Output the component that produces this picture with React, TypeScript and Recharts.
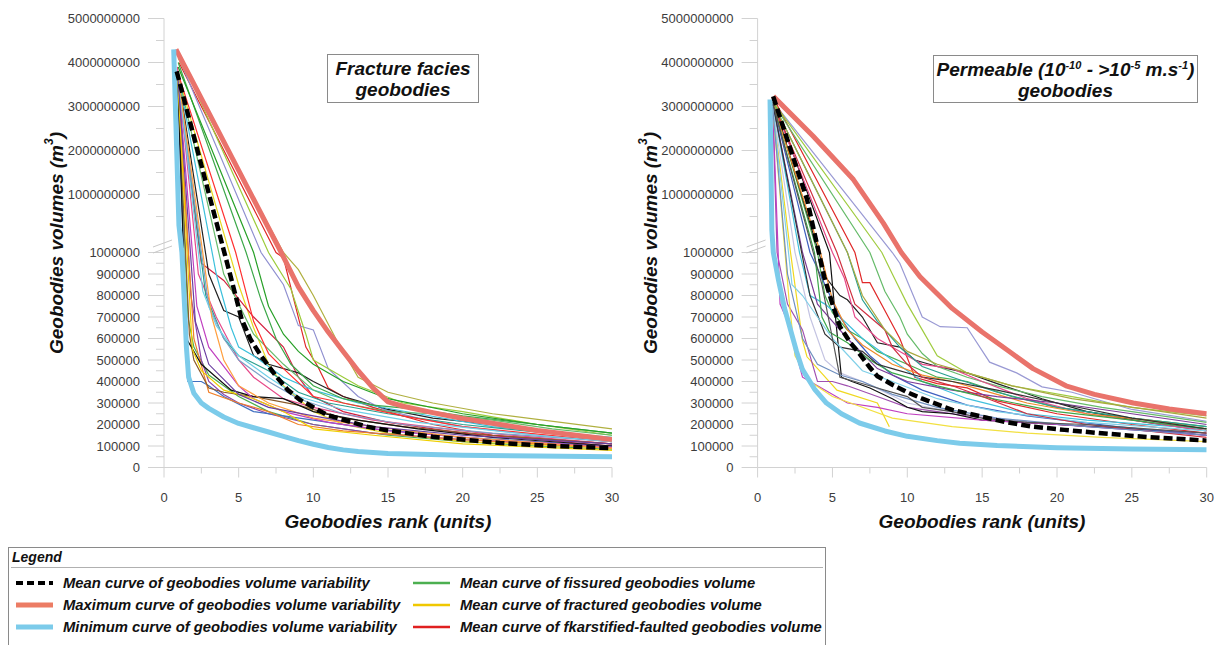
import React from 'react';
import { LineChart, Line, XAxis, YAxis } from 'recharts';

type Pt = [number, number]; // [rank, volume m3]

const FONT = '"Liberation Sans", Arial, sans-serif';
const AXIS = '#d2d2d2';
const TICK_TXT = '#3c3c3c';
const MAX_C = '#e9736b';
const MIN_C = '#7ccbea';

// axis ticks (real values)
const xTickValues = [0, 2.5, 5, 7.5, 10, 12.5, 15, 17.5, 20, 22.5, 25, 27.5, 30];
const lowTickValues = [
  0, 50000, 100000, 150000, 200000, 250000, 300000, 350000, 400000, 450000, 500000,
  550000, 600000, 650000, 700000, 750000, 800000, 850000, 900000, 950000, 1000000,
];
const highTickValues = [
  500000000, 1000000000, 1500000000, 2000000000, 2500000000, 3000000000, 3500000000,
  4000000000, 4500000000, 5000000000,
];

// ---- Fracture facies geobodies ----
const fMean: Pt[] = [[0.85, 3.8e9], [4.4, 905000], [5.2, 690000], [5.8, 595000], [6.5, 520000], [7.5, 425000], [8.3, 360000], [9.1, 315000], [10, 280000], [10.9, 245000], [12, 222000], [13.6, 190000], [15, 172000], [18, 143000], [22.5, 114000], [26, 100000], [30, 90000]];
const fMax: Pt[] = [[0.8, 4.3e9], [7.85, 1e6], [9, 840000], [10, 730000], [11, 630000], [12, 540000], [13, 450000], [14, 370000], [15, 305000], [16, 285000], [18, 255000], [20, 228000], [25, 172000], [30, 130000]];
const fMin: Pt[] = [[0.65, 4.3e9], [1.0, 0.3e9], [1.2, 1e6], [1.4, 720000], [1.5, 560000], [1.65, 420000], [2, 345000], [2.5, 300000], [3, 275000], [4, 235000], [5, 205000], [6, 185000], [7, 165000], [8, 145000], [9, 125000], [10, 108000], [11, 93000], [12, 82000], [13, 74000], [15, 65000], [20, 57000], [25, 53000], [30, 50000]];

const fGreen1: Pt[] = [[0.9, 3.8e9], [1.6, 700000], [2, 560000], [3, 430000], [4, 380000], [5, 330000], [7, 260000], [10, 200000], [15, 150000], [20, 120000], [25, 100000], [30, 85000]];
const fYellow1: Pt[] = [[0.95, 3.7e9], [5, 850000], [6, 650000], [7, 480000], [8, 380000], [10, 260000], [12, 200000], [15, 160000], [20, 120000], [30, 90000]];
const fRed1: Pt[] = [[1, 4.0e9], [7.5, 1e6], [8, 975000], [8.7, 780000], [9.5, 560000], [10.3, 470000], [11, 370000], [12, 330000], [14, 280000], [18, 200000], [22, 150000], [30, 110000]];
const fRed2: Pt[] = [[0.9, 3.6e9], [2.5, 950000], [4, 870000], [6, 700000], [8, 560000], [9, 420000], [10, 330000], [12, 260000], [15, 210000], [20, 160000], [30, 100000]];
const fLavender: Pt[] = [[1, 4.1e9], [6.5, 1e6], [8, 850000], [9, 660000], [10, 640000], [11, 460000], [13, 330000], [14.7, 270000], [17, 230000], [20, 190000], [25, 150000], [30, 120000]];
const fLightGreen: Pt[] = [[1, 4.2e9], [7, 1e6], [8.5, 830000], [9.5, 620000], [10, 500000], [12, 420000], [13, 380000], [16, 300000], [20, 260000], [25, 200000], [30, 150000]];
const fPurple1: Pt[] = [[0.9, 3.7e9], [1.8, 800000], [2.5, 500000], [3, 400000], [4, 340000], [5, 300000], [7, 250000], [10, 200000], [14, 160000], [20, 130000], [30, 100000]];
const fBlack1: Pt[] = [[0.9, 3.8e9], [3, 900000], [4, 730000], [5, 700000], [6, 520000], [7, 480000], [9, 440000], [10, 400000], [12, 330000], [15, 270000], [18, 230000], [22, 200000], [26, 160000], [30, 130000]];
const fCyan: Pt[] = [[0.9, 3.8e9], [3.5, 900000], [4.5, 650000], [5, 560000], [6, 520000], [8, 420000], [10, 360000], [13, 300000], [17, 250000], [22, 190000], [30, 140000]];
const fBlue: Pt[] = [[0.9, 3.7e9], [1.6, 400000], [2.5, 400000], [3, 380000], [4, 330000], [6, 260000], [10, 220000], [14, 180000], [20, 140000], [30, 100000]];
const fOrange1: Pt[] = [[0.9, 3.8e9], [2, 600000], [3, 350000], [5, 300000], [7, 260000], [9, 200000], [12, 170000], [16, 150000], [20, 130000], [25, 110000], [30, 90000]];
const fPink: Pt[] = [[0.9, 3.9e9], [2.3, 900000], [3.5, 700000], [5, 500000], [6, 420000], [8, 320000], [10, 280000], [14, 220000], [20, 170000], [30, 110000]];
const fTeal: Pt[] = [[0.9, 3.8e9], [2.8, 800000], [4, 600000], [5, 520000], [7, 450000], [9, 350000], [11, 300000], [15, 250000], [20, 200000], [30, 130000]];
const fGreen2: Pt[] = [[0.95, 4.0e9], [5.5, 1e6], [6.5, 780000], [7.5, 600000], [8.5, 480000], [10, 380000], [12, 320000], [14, 290000], [17, 270000], [20, 240000], [25, 200000], [30, 160000]];
const fOlive: Pt[] = [[0.95, 4.1e9], [8, 1e6], [9, 920000], [10, 800000], [11.5, 600000], [13, 420000], [15, 350000], [18, 300000], [22, 250000], [30, 180000]];
const fBrown: Pt[] = [[0.9, 3.6e9], [1.7, 620000], [2, 500000], [3, 370000], [4, 350000], [6, 330000], [9, 290000], [12, 230000], [16, 190000], [22, 150000], [30, 110000]];
const fGrayBlue: Pt[] = [[0.9, 3.7e9], [3, 750000], [4, 600000], [5, 500000], [7, 400000], [9, 320000], [12, 250000], [16, 200000], [22, 160000], [30, 120000]];
const fBlack2: Pt[] = [[0.9, 3.8e9], [1.5, 600000], [2.5, 480000], [3.5, 420000], [4.5, 360000], [6, 330000], [8, 320000], [10, 260000], [13, 220000], [17, 180000], [22, 140000], [30, 100000]];
const fMagenta: Pt[] = [[0.9, 3.8e9], [2.2, 750000], [3, 560000], [4, 470000], [5, 380000], [6, 320000], [8, 260000], [11, 210000], [15, 170000], [22, 130000], [30, 95000]];
const fYellow2: Pt[] = [[0.9, 3.7e9], [1.9, 550000], [2.5, 450000], [4, 360000], [6, 320000], [8, 260000], [10, 180000], [14, 150000], [20, 110000], [30, 80000]];
const fGreen3: Pt[] = [[0.9, 3.8e9], [4, 900000], [5, 760000], [6, 620000], [8, 480000], [10, 360000], [12, 300000], [15, 260000], [18, 250000], [22, 220000], [26, 180000], [30, 150000]];
const fRed3: Pt[] = [[0.9, 3.8e9], [4.8, 1e6], [6, 680000], [7, 530000], [8, 460000], [10, 330000], [12, 300000], [16, 240000], [20, 190000], [30, 120000]];
const fLightBlue: Pt[] = [[0.9, 3.8e9], [2.6, 820000], [3.5, 660000], [5, 520000], [7, 420000], [9, 330000], [12, 270000], [17, 210000], [25, 150000], [30, 120000]];
const fOrange2: Pt[] = [[0.9, 3.8e9], [3.2, 700000], [4, 500000], [5, 380000], [7, 300000], [10, 230000], [14, 190000], [20, 140000], [26, 110000], [30, 90000]];
const fPurple2: Pt[] = [[0.9, 3.8e9], [2.1, 680000], [3, 480000], [5, 340000], [7, 280000], [10, 240000], [14, 190000], [20, 150000], [30, 110000]];
const fGreen4: Pt[] = [[0.95, 3.9e9], [6, 1e6], [7, 750000], [8, 620000], [9, 540000], [10, 480000], [12, 400000], [15, 320000], [20, 250000], [25, 200000], [30, 160000]];

// ---- Permeable geobodies ----
const pMean: Pt[] = [[1.04, 3.23e9], [3.3, 0.89e9], [4.45, 887000], [5, 760000], [5.5, 655000], [6.2, 580000], [6.8, 530000], [7.5, 465000], [8, 425000], [9, 385000], [10, 350000], [11, 320000], [11.7, 302000], [13, 268000], [15, 236000], [16.5, 212000], [18.4, 190000], [20.5, 175000], [23, 159000], [26, 142000], [30, 125000]];
const pMax: Pt[] = [[1.05, 3.23e9], [3.7, 2.33e9], [6.4, 1.34e9], [8.4, 0.35e9], [9.6, 1e6], [10.85, 887000], [13, 740000], [15, 630000], [17, 530000], [18.4, 460000], [20.6, 380000], [22.5, 340000], [25.1, 300000], [27.5, 272000], [30, 250000]];
const pMin: Pt[] = [[0.83, 3.16e9], [0.9, 1.5e9], [0.95, 0.2e9], [1.05, 1e6], [1.4, 870000], [1.8, 740000], [2.2, 640000], [2.6, 540000], [3, 455000], [3.8, 365000], [4.6, 300000], [5.6, 250000], [6.8, 207000], [8.5, 170000], [10, 145000], [12, 125000], [13.5, 113000], [16, 102000], [20, 92000], [25, 86000], [30, 82000]];

const pLavender: Pt[] = [[1.05, 3.1e9], [9, 1e6], [9.5, 950000], [11, 700000], [12.2, 655000], [14, 650000], [15.5, 490000], [17.3, 440000], [19, 375000], [21, 350000], [25, 270000], [30, 215000]];
const pYellow1: Pt[] = [[1, 3.0e9], [2.2, 1e6], [3, 590000], [3.3, 515000], [5.3, 360000], [8, 300000], [8.8, 190000]];
const pPurple1: Pt[] = [[1, 3.1e9], [1.3, 1e6], [2, 760000], [3, 640000], [4, 400000], [5, 400000], [6, 380000], [8, 330000], [10, 280000], [14, 240000], [20, 200000], [25, 180000], [30, 160000]];
const pGrayLight: Pt[] = [[1, 3.0e9], [2.5, 1e6], [3.5, 700000], [4.5, 500000], [5.5, 440000], [7, 400000], [10, 300000], [15, 230000], [20, 200000], [30, 150000]];
const pGreen1: Pt[] = [[1, 3.2e9], [4, 1e6], [4.5, 800000], [5, 720000], [6, 640000], [7, 600000], [8, 540000], [10, 480000], [12, 420000], [14, 400000], [17, 330000], [20, 280000], [25, 230000], [30, 190000]];
const pBlack1: Pt[] = [[1, 3.2e9], [4.6, 880000], [5.5, 800000], [6, 780000], [7, 700000], [8, 580000], [9.5, 560000], [10.5, 500000], [12, 470000], [14, 440000], [16, 390000], [19, 320000], [22, 260000], [26, 210000], [30, 170000]];
const pBlack2: Pt[] = [[1, 3.2e9], [4.8, 1e6], [5.2, 700000], [5.6, 420000], [6.3, 400000], [7.5, 370000], [9, 320000], [10, 280000], [11, 260000], [13, 250000], [15, 220000], [20, 200000], [25, 180000], [30, 150000]];
const pRed1: Pt[] = [[1.05, 3.2e9], [6.5, 1e6], [7, 860000], [7.5, 860000], [8.5, 730000], [9.5, 600000], [10.5, 420000], [12, 390000], [14, 370000], [16, 310000], [20, 250000], [25, 200000], [30, 160000]];
const pCyan: Pt[] = [[1, 3.1e9], [2.8, 1e6], [3.5, 800000], [4.5, 760000], [5.5, 700000], [7, 600000], [9, 500000], [11, 400000], [14, 320000], [18, 250000], [22, 220000], [30, 180000]];
const pGreen2: Pt[] = [[1, 3.1e9], [7.5, 1e6], [8.5, 820000], [9.5, 700000], [10, 620000], [11, 530000], [12, 470000], [14, 420000], [16, 380000], [19, 330000], [23, 280000], [27, 240000], [30, 210000]];
const pLightGreen: Pt[] = [[1.05, 3.1e9], [8.3, 1e6], [9, 900000], [10, 760000], [11, 640000], [12, 520000], [14, 440000], [17, 380000], [21, 330000], [25, 280000], [30, 240000]];
const pBlue: Pt[] = [[1, 3.1e9], [3.5, 1e6], [4.5, 850000], [5.5, 700000], [6.5, 600000], [7.5, 520000], [9, 430000], [11, 360000], [14, 290000], [18, 240000], [24, 190000], [30, 150000]];
const pPink: Pt[] = [[1, 3.1e9], [5, 1e6], [5.8, 880000], [6.5, 700000], [8, 600000], [9.5, 540000], [11, 480000], [13, 460000], [15, 400000], [18, 320000], [22, 250000], [30, 170000]];
const pTeal: Pt[] = [[1, 3.1e9], [6, 1e6], [7, 780000], [8, 680000], [9.5, 560000], [11, 470000], [13, 420000], [16, 350000], [20, 280000], [25, 230000], [30, 190000]];
const pOrange: Pt[] = [[1, 3.1e9], [4.2, 1e6], [5, 780000], [6, 640000], [7, 570000], [9, 480000], [11, 430000], [13, 400000], [15, 360000], [18, 300000], [22, 250000], [26, 220000], [30, 180000]];
const pMagenta: Pt[] = [[1, 3.1e9], [1.5, 760000], [2, 680000], [3, 420000], [4, 380000], [6, 300000], [8, 280000], [10, 250000], [15, 220000], [20, 200000], [30, 150000]];
const pYellow2: Pt[] = [[1, 3.0e9], [2.1, 780000], [2.5, 520000], [3.5, 400000], [5, 330000], [7, 280000], [9, 230000], [13, 190000], [18, 160000], [23, 140000], [30, 120000]];
const pPurple2: Pt[] = [[1, 3.1e9], [3, 1e6], [4, 760000], [5, 680000], [6, 600000], [8, 460000], [10, 400000], [13, 360000], [16, 330000], [20, 300000], [25, 250000], [30, 200000]];
const pGreen3: Pt[] = [[1, 3.1e9], [3.8, 1e6], [4.3, 700000], [4.8, 630000], [6, 580000], [7.5, 500000], [9, 440000], [12, 380000], [15, 330000], [20, 260000], [25, 220000], [30, 180000]];
const pBlack3: Pt[] = [[1, 3.1e9], [3.5, 800000], [4.5, 620000], [5.5, 560000], [7, 540000], [8, 480000], [9, 460000], [11, 420000], [13, 400000], [16, 360000], [20, 300000], [25, 230000], [30, 180000]];
const pLightBlue: Pt[] = [[1, 3.0e9], [2.3, 850000], [3, 800000], [4, 700000], [5, 600000], [7, 450000], [9, 400000], [12, 320000], [16, 260000], [22, 210000], [30, 170000]];
const pRed2: Pt[] = [[1, 3.1e9], [5.3, 1e6], [6.5, 760000], [7.5, 700000], [8.5, 640000], [9, 560000], [10, 480000], [11, 420000], [13, 380000], [15, 330000], [18, 250000], [22, 200000], [30, 140000]];
const pGrayBlue: Pt[] = [[1, 3.0e9], [2, 900000], [3, 600000], [4, 480000], [5.5, 430000], [7, 400000], [9, 340000], [12, 280000], [16, 230000], [22, 190000], [30, 150000]];
const pOlive: Pt[] = [[1, 3.1e9], [6, 1e6], [7, 800000], [8.5, 640000], [10, 540000], [12, 480000], [14, 440000], [17, 380000], [21, 320000], [26, 270000], [30, 230000]];
const pBlack4: Pt[] = [[1, 3.1e9], [4.3, 850000], [5, 600000], [5.5, 420000], [6.5, 400000], [8, 370000], [10, 330000], [11, 280000], [13, 260000], [15, 230000], [18, 210000], [22, 200000], [26, 180000], [30, 160000]];

const fractureThin: [string, Pt[]][] = [
  ['#4caf50', fGreen1], ['#e8d820', fYellow1], ['#e02828', fRed1], ['#d42040', fRed2],
  ['#9090d0', fLavender], ['#9ccc3c', fLightGreen], ['#8e44ad', fPurple1], ['#222222', fBlack1],
  ['#3cc0dc', fCyan], ['#3f6fc0', fBlue], ['#f0802a', fOrange1], ['#e64a8a', fPink],
  ['#2aa090', fTeal], ['#3da84a', fGreen2], ['#b0b040', fOlive], ['#8b5a2b', fBrown],
  ['#7fa0c8', fGrayBlue], ['#111111', fBlack2], ['#c040c0', fMagenta], ['#f0d000', fYellow2],
  ['#66bb6a', fGreen3], ['#ff3030', fRed3], ['#70d0e8', fLightBlue], ['#ffa040', fOrange2],
  ['#6a3fa0', fPurple2], ['#28a028', fGreen4],
];
const permeableThin: [string, Pt[]][] = [
  ['#9a9ad4', pLavender], ['#f0d820', pYellow1], ['#a050b0', pPurple1], ['#c4c4e2', pGrayLight],
  ['#4caf50', pGreen1], ['#222222', pBlack1], ['#111111', pBlack2], ['#e02828', pRed1],
  ['#40c0dc', pCyan], ['#66bb6a', pGreen2], ['#a0cc40', pLightGreen], ['#3f60c0', pBlue],
  ['#e64a8a', pPink], ['#2aa090', pTeal], ['#f08a2a', pOrange], ['#c040c0', pMagenta],
  ['#f2e040', pYellow2], ['#7d3c98', pPurple2], ['#3da84a', pGreen3], ['#333333', pBlack3],
  ['#80d0e8', pLightBlue], ['#d03040', pRed2], ['#7090c0', pGrayBlue], ['#a8a840', pOlive],
  ['#555555', pBlack4],
];

// broken y axis: 0..1e6 linear below, 0..5e9 linear above a small gap
const BREAK_GAP = 0.65;
const HIGH_SCALE = 2.047;
function toAxis(v: number) {
  return v <= 1e6 ? v / 1e5 : 10 + BREAK_GAP + (v / 1e9) * HIGH_SCALE;
}
const Y_MAX = toAxis(5e9);

const yTicks = [
  ...lowTickValues.map((v) => ({ pos: toAxis(v), label: String(v), major: v % 100000 === 0 })),
  ...highTickValues.map((v) => ({ pos: toAxis(v), label: String(v), major: v % 1e9 === 0 })),
];

const toRows = (pts: Pt[]) => pts.map(([x, v]) => ({ x, y: toAxis(v) }));

const YTick = (props: any) => {
  const { x, y, payload } = props;
  const t = yTicks.find((k) => Math.abs(k.pos - payload.value) < 1e-6);
  if (!t) return null;
  return (
    <g>
      <line x1={x - (t.major ? 16 : 8)} x2={x} y1={y} y2={y} stroke={AXIS} strokeWidth={1} />
      {t.major && (
        <text x={x - 24} y={y + 4.6} textAnchor="end" fontSize={13} fill={TICK_TXT} fontFamily={FONT}>
          {t.label}
        </text>
      )}
    </g>
  );
};

const XTick = (props: any) => {
  const { x, y, payload } = props;
  const major = payload.value % 5 === 0;
  return (
    <g>
      <line x1={x} x2={x} y1={y} y2={y + (major ? 10 : 6)} stroke={AXIS} strokeWidth={1} />
      {major && (
        <text x={x} y={y + 34} textAnchor="middle" fontSize={13} fill={TICK_TXT} fontFamily={FONT}>
          {payload.value}
        </text>
      )}
    </g>
  );
};

function Panel(props: {
  left: number;
  width: number;
  plotLeft: number;
  plotRight: number;
  thin: [string, Pt[]][];
  mean: Pt[];
  max: Pt[];
  min: Pt[];
}) {
  const { left, width, plotLeft, plotRight, thin, mean, max, min } = props;
  const height = 540;
  const plotTop = 18.5;
  const plotBottom = 467.5;
  const xAxisH = 40;
  const yAxisW = plotLeft - left;
  return (
    <div style={{ position: 'absolute', left, top: 0 }}>
      <LineChart
        width={width}
        height={height}
        margin={{ top: plotTop, right: left + width - plotRight, bottom: height - plotBottom - xAxisH, left: 0 }}
      >
        <XAxis
          type="number"
          dataKey="x"
          domain={[0, 30]}
          ticks={xTickValues}
          interval={0}
          allowDataOverflow
          height={xAxisH}
          tickSize={0}
          tickMargin={0}
          tickLine={false}
          axisLine={{ stroke: AXIS }}
          tick={<XTick />}
        />
        <YAxis
          type="number"
          domain={[0, Y_MAX]}
          ticks={yTicks.map((t) => t.pos)}
          interval={0}
          allowDataOverflow
          width={yAxisW}
          tickSize={0}
          tickMargin={0}
          tickLine={false}
          axisLine={{ stroke: AXIS }}
          tick={<YTick />}
        />
        {thin.map(([color, pts], i) => (
          <Line
            key={i}
            data={toRows(pts)}
            dataKey="y"
            type="linear"
            stroke={color}
            strokeWidth={1.2}
            dot={false}
            activeDot={false}
            isAnimationActive={false}
          />
        ))}
        <Line data={toRows(max)} dataKey="y" type="linear" stroke={MAX_C} strokeWidth={5} strokeLinejoin="round" dot={false} activeDot={false} isAnimationActive={false} />
        <Line data={toRows(min)} dataKey="y" type="linear" stroke={MIN_C} strokeWidth={5} strokeLinejoin="round" dot={false} activeDot={false} isAnimationActive={false} />
        <Line data={toRows(mean)} dataKey="y" type="linear" stroke="#000" strokeWidth={4.5} strokeDasharray="9 4" dot={false} activeDot={false} isAnimationActive={false} />
      </LineChart>
    </div>
  );
}

const legendLeft = [
  { label: 'Mean curve of geobodies volume variability', color: '#000', width: 4, dash: '7 4' },
  { label: 'Maximum curve of geobodies volume variability', color: '#ec7c64', width: 5, dash: undefined },
  { label: 'Minimum curve of geobodies volume variability', color: MIN_C, width: 5, dash: undefined },
];
const legendRight = [
  { label: 'Mean curve of fissured geobodies volume', color: '#4caf50', width: 2.5, dash: undefined },
  { label: 'Mean curve of fractured geobodies volume', color: '#f0c800', width: 2.5, dash: undefined },
  { label: 'Mean curve of fkarstified-faulted geobodies volume', color: '#e02020', width: 2.5, dash: undefined },
];

const boxStyle: React.CSSProperties = {
  position: 'absolute',
  border: '1.5px solid #8a8a8a',
  background: '#fff',
  fontFamily: FONT,
  fontWeight: 'bold',
  fontStyle: 'italic',
  fontSize: 19,
  lineHeight: '21px',
  textAlign: 'center',
  color: '#111',
  boxSizing: 'border-box',
  paddingTop: 3,
};

const supStyle: React.CSSProperties = { fontSize: 11, lineHeight: 0, verticalAlign: 7 };

function YLabel({ cx }: { cx: number }) {
  return (
    <text
      transform={`translate(${cx},243) rotate(-90)`}
      textAnchor="middle"
      dominantBaseline="central"
      fontFamily={FONT}
      fontWeight="bold"
      fontStyle="italic"
      fontSize={19}
      fill="#111"
    >
      Geobodies volumes (m
      <tspan fontSize={12} dy={-7}>3</tspan>
      <tspan dy={7}>)</tspan>
    </text>
  );
}

function AxisBreak({ ax }: { ax: number }) {
  return (
    <g stroke="#c8c8c8" strokeWidth={1}>
      <line x1={ax - 11} y1={247} x2={ax + 8} y2={240} />
      <line x1={ax - 11} y1={253} x2={ax + 8} y2={246} />
    </g>
  );
}

export default function App() {
  return (
    <div style={{ position: 'absolute', left: 0, top: 0, width: 1223, height: 645, background: '#fff', overflow: 'hidden' }}>
      <Panel left={0} width={640} plotLeft={164} plotRight={612} thin={fractureThin} mean={fMean} max={fMax} min={fMin} />
      <Panel left={594} width={629} plotLeft={757.6} plotRight={1206.7} thin={permeableThin} mean={pMean} max={pMax} min={pMin} />

      <svg width={1223} height={645} style={{ position: 'absolute', left: 0, top: 0, pointerEvents: 'none' }}>
        <AxisBreak ax={164} />
        <AxisBreak ax={757.6} />
        <YLabel cx={56} />
        <YLabel cx={650} />
        {[388, 982].map((cx) => (
          <text key={cx} x={cx} y={528} textAnchor="middle" fontFamily={FONT} fontWeight="bold" fontStyle="italic" fontSize={19} fill="#111">
            Geobodies rank (units)
          </text>
        ))}
      </svg>

      <div style={{ ...boxStyle, left: 327, top: 54, width: 152, height: 49 }}>
        Fracture facies
        <br />
        geobodies
      </div>
      <div style={{ ...boxStyle, left: 933, top: 55, width: 265, height: 48 }}>
        Permeable (10<sup style={supStyle}>-10</sup> - &gt;10<sup style={supStyle}>-5</sup> m.s<sup style={supStyle}>-1</sup>)
        <br />
        geobodies
      </div>

      <div
        style={{
          position: 'absolute',
          left: 8,
          top: 547,
          width: 818,
          height: 100,
          border: '1px solid #8a8a8a',
          boxSizing: 'border-box',
          fontFamily: FONT,
          fontWeight: 'bold',
          fontStyle: 'italic',
          fontSize: 14.8,
          color: '#111',
        }}
      >
        <div style={{ position: 'absolute', left: 3, top: 1, fontSize: 14 }}>Legend</div>
        <div style={{ position: 'absolute', left: 2, right: 2, top: 19, borderTop: '1px solid #b0b0b0' }} />
        {[legendLeft, legendRight].map((col, ci) =>
          col.map((item, ri) => (
            <div key={`${ci}-${ri}`} style={{ position: 'absolute', left: ci === 0 ? 6 : 403, top: 26 + ri * 22, height: 18, display: 'flex', alignItems: 'center', whiteSpace: 'nowrap' }}>
              <svg width={40} height={10} style={{ marginRight: 8 }}>
                <line x1={1} x2={38} y1={5} y2={5} stroke={item.color} strokeWidth={item.width} strokeDasharray={item.dash} />
              </svg>
              <span>{item.label}</span>
            </div>
          ))
        )}
      </div>
    </div>
  );
}
